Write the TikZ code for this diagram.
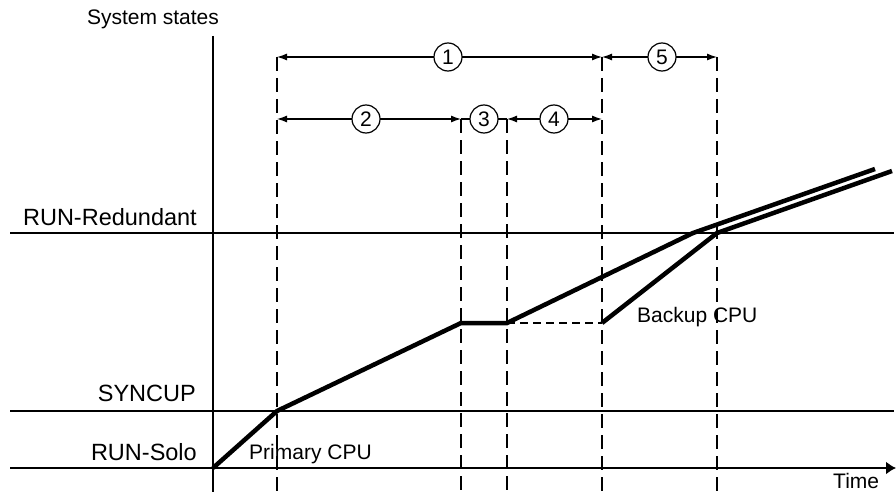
\documentclass[tikz,border=0pt]{standalone}
\usepackage{fontspec}
\setmainfont{Liberation Sans}
\usetikzlibrary{arrows.meta}

\begin{document}
\begin{tikzpicture}[x=1pt,y=-1pt]
			\tikzstyle{axis}=[-,draw=black,line width=1.8pt]
			\tikzstyle{border}=[-,draw=black,line width=1.6pt,dash pattern=on 14pt off 7pt]
			\tikzstyle{span}=[<->,draw=black,line width=1.2pt,>={Latex[length=10pt,width=7pt]}]
			\tikzstyle{curve}=[-,draw=black,line width=4.5pt,line join=miter]
			\tikzstyle{phase}=[
				circle, draw = black, fill = white, line width = 1.2pt,
				inner sep = 0pt, minimum size = 28pt, font = \fontsize{21}{25}\selectfont
			]
			\tikzstyle{txt}=[inner sep=0pt,font=\fontsize{21}{25}\selectfont]
			\tikzstyle{level}=[inner sep=0pt,anchor=base east,font=\fontsize{23.5}{28}\selectfont]
			\useasboundingbox (0,0) rectangle (896,492);
			% axes and state levels
			\coordinate (ytop) at (213,36);
			\coordinate (ybot) at (213,492);
			\coordinate (tl) at (10,468);
			\coordinate (tr) at (896,468);
			\coordinate (sl) at (10,411);
			\coordinate (sr) at (894,411);
			\coordinate (rl) at (10,233);
			\coordinate (rr) at (894,233);
			\draw (ytop) to (ybot) [axis];
			\draw (rl) to (rr) [axis];
			\draw (sl) to (sr) [axis];
			\draw (tl) to (tr) [axis,-{Latex[length=10pt,width=13pt]}];
			\node[txt,anchor=base] (sys) at (153,25) {System states};
			\node[level] (lred) at (197,225) {RUN-Redundant};
			\node[level] (lsync) at (196,401) {SYNCUP};
			\node[level] (lsolo) at (197,460) {RUN-Solo};
			\node[txt,anchor=base west] (time) at (833,488) {Time};
			% phase borders
			\coordinate (a1) at (277,57);   \coordinate (b1) at (277,492);
			\coordinate (a2) at (461,119);  \coordinate (b2) at (461,492);
			\coordinate (a3) at (507,119);  \coordinate (b3) at (507,492);
			\coordinate (a4) at (602,57);   \coordinate (b4) at (602,492);
			\coordinate (a5) at (717,57);   \coordinate (b5) at (717,492);
			\draw (a1) to (b1) [border];
			\draw (a2) to (b2) [border];
			\draw (a3) to (b3) [border];
			\draw (a4) to (b4) [border];
			\draw (a5) to (b5) [border];
			\coordinate (a1b) at (277,119);
			\coordinate (a4b) at (602,119);
			\draw (a1) to (a4) [span];
			\draw (a4) to (a5) [span];
			\draw (a1b) to (a2) [span];
			\draw (a2) to (a3) [-,draw=black,line width=1.2pt];
			\draw (a3) to (a4b) [span];
			\node[phase] (1) at (448,57) {1};
			\node[phase] (5) at (662,57) {5};
			\node[phase] (2) at (366,119) {2};
			\node[phase] (3) at (484,119) {3};
			\node[phase] (4) at (554,119) {4};
			% primary and backup CPU
			\coordinate (p0) at (213,468);
			\coordinate (p1) at (277,411);
			\coordinate (p2) at (461,323);
			\coordinate (p3) at (507,323);
			\coordinate (p4) at (693,233);
			\coordinate (p5) at (875,169);
			\coordinate (q0) at (602,323);
			\coordinate (q1) at (717,233);
			\coordinate (q2) at (892,171);
			\draw (p0) -- (p1) -- (p2) -- (p3) -- (p4) -- (p5) [curve];
			\draw (p3) to (q0) [-,draw=black,line width=1.4pt,dash pattern=on 8pt off 5pt];
			\draw (q0) -- (q1) -- (q2) [curve];
			\node[txt,anchor=base west] (prim) at (249,459) {Primary CPU};
			\node[txt,anchor=base west] (back) at (637,322) {Backup CPU};
		\end{tikzpicture}
\end{document}
